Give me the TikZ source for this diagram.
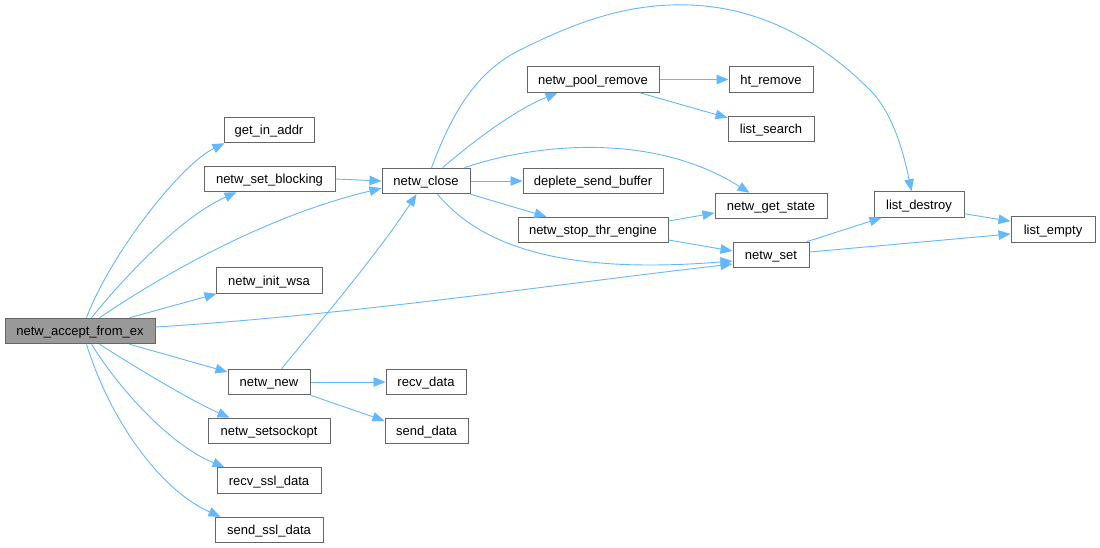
\documentclass[tikz,border=0pt]{standalone}
\usepackage{fontspec}
\setmainfont{Liberation Sans}
\usetikzlibrary{arrows.meta}
\definecolor{edgeblue}{HTML}{63B8FF}
\definecolor{boxgray}{HTML}{666666}
\definecolor{rootfill}{HTML}{999999}
\begin{document}
\begin{tikzpicture}[x=1pt,y=-1pt,
  fbox/.style={draw=boxgray,line width=1pt,fill=white,rectangle,minimum height=25.5pt,inner sep=0pt,text height=9.4pt,text depth=0pt,font=\fontsize{13}{15}\selectfont,text=black},
  edge/.style={draw=edgeblue,line width=0.9pt,-{Triangle[length=12pt,width=9.5pt]}}]
\fill[white] (0,0) rectangle (1100,548);
\useasboundingbox (0,0) rectangle (1100,548);
% nodes
\node[fbox,fill=rootfill,minimum width=150pt] (accept) at (80,331) {netw\_accept\_from\_ex};
\node[fbox,minimum width=90pt] (getaddr) at (269,130) {get\_in\_addr};
\node[fbox,minimum width=131pt] (blocking) at (269.5,179) {netw\_set\_blocking};
\node[fbox,minimum width=88pt] (close) at (426,181) {netw\_close};
\node[fbox,minimum width=106pt] (initwsa) at (269,280.5) {netw\_init\_wsa};
\node[fbox,minimum width=82pt] (new) at (269,382) {netw\_new};
\node[fbox,minimum width=80pt] (recv) at (426,382) {recv\_data};
\node[fbox,minimum width=83pt] (send) at (426.5,431) {send\_data};
\node[fbox,minimum width=122pt] (sockopt) at (269,431) {netw\_setsockopt};
\node[fbox,minimum width=104pt] (recvssl) at (269,480.5) {recv\_ssl\_data};
\node[fbox,minimum width=108pt] (sendssl) at (269,530) {send\_ssl\_data};
\node[fbox,minimum width=132pt] (pool) at (593,79.5) {netw\_pool\_remove};
\node[fbox,minimum width=84pt] (htrem) at (771,79.5) {ht\_remove};
\node[fbox,minimum width=86pt] (search) at (771,129) {list\_search};
\node[fbox,minimum width=140pt] (deplete) at (593,181) {deplete\_send\_buffer};
\node[fbox,minimum width=112pt] (state) at (771,206) {netw\_get\_state};
\node[fbox,minimum width=150pt] (stop) at (593,230) {netw\_stop\_thr\_engine};
\node[fbox,minimum width=76pt] (set) at (771,255) {netw\_set};
\node[fbox,minimum width=90pt] (destroy) at (919,204.5) {list\_destroy};
\node[fbox,minimum width=84pt] (empty) at (1053,229.5) {list\_empty};
% edges from netw_accept_from_ex
\draw[edge] ([xshift=82pt]accept.north west) .. controls (110,255) and (180,165) .. ([xshift=1pt]getaddr.south west);
\draw[edge] ([xshift=87pt]accept.north west) .. controls (130,270) and (185,215) .. ([xshift=33pt]blocking.south west);
\draw[edge] ([xshift=95pt]accept.north west) .. controls (170,270) and (270,215) .. ([yshift=6pt]close.south west);
\draw[edge] ([xshift=125pt]accept.north west) -- ([xshift=1pt]initwsa.south west);
\draw[edge] ([yshift=4pt]accept.east) .. controls (350,315) and (550,285) .. ([yshift=-9pt]set.west);
\draw[edge] ([xshift=125pt]accept.south west) -- ([yshift=10pt]new.west);
\draw[edge] ([xshift=95pt]accept.south west) .. controls (140,370) and (190,400) .. ([xshift=22pt]sockopt.north west);
\draw[edge] ([xshift=87pt]accept.south west) .. controls (120,390) and (170,445) .. ([xshift=8pt]recvssl.north west);
\draw[edge] ([xshift=82pt]accept.south west) .. controls (110,420) and (160,490) .. ([xshift=6pt]sendssl.north west);
% other edges
\draw[edge] (blocking.east) -- (close.west);
\draw[edge] ([xshift=54pt]new.north west) .. controls (330,310) and (380,250) .. ([xshift=35pt]close.south west);
\draw[edge] (new.east) -- (recv.west);
\draw[edge] (new.south east) -- ([yshift=-3pt]send.north west);
\draw[edge] ([xshift=50pt]close.north west) .. controls (455,105) and (480,70) .. (520,50)
  .. controls (580,20) and (630,3) .. (690,5)
  .. controls (770,8) and (830,50) .. (870,90)
  .. controls (895,115) and (905,160) .. ([xshift=38pt]destroy.north west);
\draw[edge] ([xshift=61pt]close.north west) .. controls (475,140) and (515,110) .. ([xshift=31pt]pool.south west);
\draw[edge] ([xshift=83pt]close.north west) .. controls (530,145) and (650,130) .. ([xshift=35pt]state.north west);
\draw[edge] (close.east) -- (deplete.west);
\draw[edge] (close.south east) -- ([xshift=29pt]stop.north west);
\draw[edge] ([xshift=56pt]close.south west) .. controls (480,245) and (560,275) .. ([yshift=-6pt]set.west);
\draw[edge] (pool.east) -- (htrem.west);
\draw[edge] ([xshift=113pt]pool.south west) -- ([yshift=-2pt]search.north west);
\draw[edge] ([yshift=9pt]stop.east) -- ([yshift=-7pt]state.west);
\draw[edge] ([yshift=-10pt]stop.east) -- ([yshift=4pt]set.west);
\draw[edge] ([xshift=-3pt]set.north east) -- ([xshift=8pt]destroy.south west);
\draw[edge] ([yshift=3pt]set.east) -- ([yshift=-4.5pt]empty.west);
\draw[edge] ([yshift=4pt]destroy.south east) -- ([yshift=-5pt]empty.north west);
\end{tikzpicture}
\end{document}
